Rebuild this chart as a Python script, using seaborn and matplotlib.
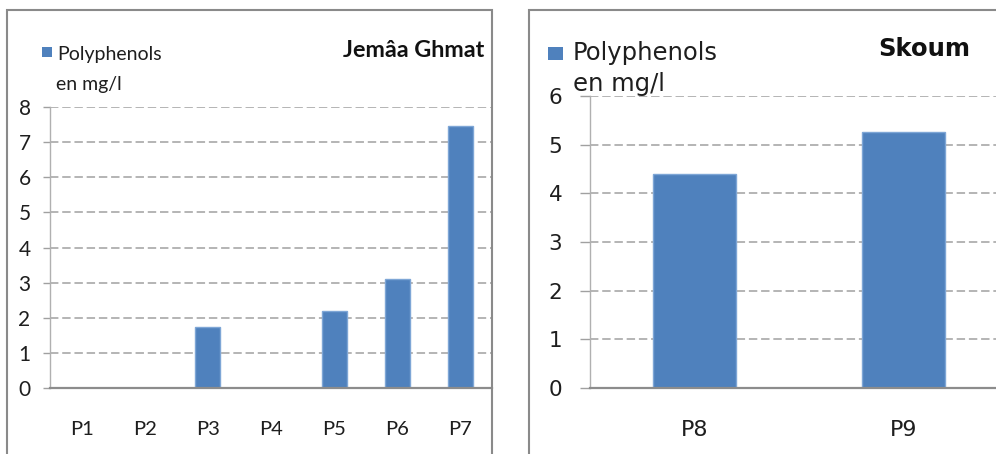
import matplotlib
matplotlib.use("Agg")
import matplotlib.pyplot as plt
from matplotlib.patches import Rectangle
from matplotlib.ticker import FixedLocator
import seaborn as sns

# Polyphenol concentrations (mg/l) per sampling point
sites_jemaa = ["P1", "P2", "P3", "P4", "P5", "P6", "P7"]
poly_jemaa = [0.0, 0.0, 1.75, 0.0, 2.2, 3.1, 7.47]
yticks_jemaa = [0, 1, 2, 3, 4, 5, 6, 7, 8]

sites_skoum = ["P8", "P9"]
poly_skoum = [4.4, 5.27]
yticks_skoum = [0, 1, 2, 3, 4, 5, 6]

series_label = "Polyphenols\nen mg/l"
title_jemaa = "Jemâa Ghmat"
title_skoum = "Skoum"

BLUE = "#4F81BD"
EDGE = "#7EA6D6"
GRID = "#A0A0A0"
TEXT = "#1E1E1E"

W, H = 996, 454
sns.set_theme(style="white")

fig = plt.figure(figsize=(W / 100, H / 100), dpi=100)
fig.patch.set_facecolor("white")


def fx(px):
    return px / W


def fy(py):
    return 1 - py / H


def style_axes(ax, cats, ticks, fam, ysize, xsize, ypad, xpad, ticklen):
    ax.set_facecolor("white")
    ax.set_xlim(-0.5, len(cats) - 0.5)
    ax.set_ylim(ticks[0], ticks[-1])
    ax.set_yticks(ticks)
    ax.set_yticklabels([str(t) for t in ticks], family=fam, fontsize=ysize, color=TEXT)
    ax.set_xticks(range(len(cats)))
    ax.set_xticklabels(cats, family=fam, fontsize=xsize, color=TEXT)
    ax.xaxis.set_minor_locator(FixedLocator([i - 0.5 for i in range(len(cats) + 1)]))
    ax.tick_params(axis="x", which="major", length=0, pad=xpad)
    ax.tick_params(axis="x", which="minor", length=5, width=1, color="#9A9A9A", direction="out")
    ax.tick_params(axis="y", which="major", length=ticklen, width=1, color="#A0A0A0",
                   direction="out", pad=ypad, left=True)
    ax.yaxis.grid(True, color=GRID, linestyle=(0, (5.5, 2.5)), linewidth=1.1)
    ax.xaxis.grid(False)
    ax.set_axisbelow(True)
    for s in ("top", "right"):
        ax.spines[s].set_visible(False)
    ax.spines["left"].set_color("#B0B0B0")
    ax.spines["left"].set_linewidth(1.0)
    ax.spines["bottom"].set_color("#8C8C8C")
    ax.spines["bottom"].set_linewidth(1.6)
    ax.set_xlabel("")
    ax.set_ylabel("")


# Left panel: Jemâa Ghmat
ax1 = fig.add_axes([fx(50), fy(388), fx(492) - fx(50), fy(107) - fy(388)])
sns.barplot(x=sites_jemaa, y=poly_jemaa, ax=ax1, color=BLUE, saturation=1,
            width=0.4, edgecolor=EDGE, linewidth=1)
style_axes(ax1, sites_jemaa, yticks_jemaa, "Lato", 15, 14.5, 9, 24, 5)

# Right panel: Skoum
ax2 = fig.add_axes([fx(590), fy(388), fx(1008) - fx(590), fy(96) - fy(388)])
sns.barplot(x=sites_skoum, y=poly_skoum, ax=ax2, color=BLUE, saturation=1,
            width=0.4, edgecolor=EDGE, linewidth=1)
style_axes(ax2, sites_skoum, yticks_skoum, "DejaVu Sans", 15.5, 16, 13, 23, 7)

# Chart frames
fig.add_artist(Rectangle((fx(7), fy(470)), fx(492) - fx(7), fy(10) - fy(470),
                         transform=fig.transFigure, fill=False,
                         edgecolor="#8A8A8A", linewidth=1.5, zorder=5))
fig.add_artist(Rectangle((fx(529), fy(470)), fx(1020) - fx(529), fy(10) - fy(470),
                         transform=fig.transFigure, fill=False,
                         edgecolor="#8A8A8A", linewidth=1.5, zorder=5))

# Legend keys and labels
fig.add_artist(Rectangle((fx(42), fy(57)), fx(52) - fx(42), fy(47) - fy(57),
                         transform=fig.transFigure, facecolor=BLUE, edgecolor="none"))
line1, line2 = series_label.split("\n")
fig.text(fx(57), fy(60), line1, family="Lato", fontsize=14, color=TEXT, va="baseline")
fig.text(fx(56), fy(90), line2, family="Lato", fontsize=14, color=TEXT, va="baseline")

fig.add_artist(Rectangle((fx(548), fy(60)), fx(563) - fx(548), fy(47) - fy(60),
                         transform=fig.transFigure, facecolor=BLUE, edgecolor="none"))
fig.text(fx(573), fy(60), line1, family="DejaVu Sans", fontsize=17.5, color=TEXT, va="baseline")
fig.text(fx(573), fy(91), line2, family="DejaVu Sans", fontsize=17.5, color=TEXT, va="baseline")

# Titles
fig.text(fx(484), fy(57), title_jemaa, family="Lato", fontweight="bold",
         fontsize=16.8, color="#111111", ha="right", va="baseline")
fig.text(fx(970), fy(56), title_skoum, family="DejaVu Sans", fontweight="bold",
         fontsize=17.5, color="#111111", ha="right", va="baseline")

fig.savefig("out.png", dpi=100, facecolor="white")
